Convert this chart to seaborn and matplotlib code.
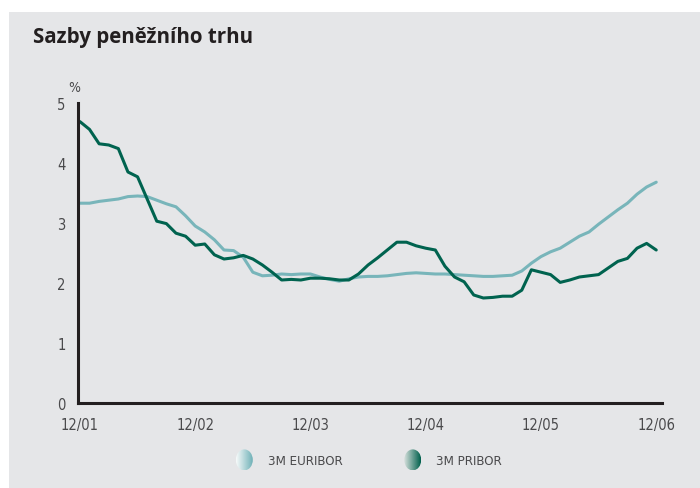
import numpy as np
import pandas as pd
import matplotlib
matplotlib.use("Agg")
from matplotlib import pyplot as plt
from matplotlib import font_manager
from matplotlib.patches import Rectangle, Ellipse
from matplotlib.lines import Line2D
from matplotlib.colors import LinearSegmentedColormap
import seaborn as sns

# monthly values, 12/2001 .. 12/2006
months = list(range(61))
euribor = [3.33, 3.33, 3.36, 3.38, 3.40, 3.44, 3.45, 3.44, 3.38, 3.32,
           3.27, 3.12, 2.95, 2.85, 2.72, 2.55, 2.54, 2.43, 2.18, 2.12,
           2.13, 2.15, 2.14, 2.15, 2.15, 2.10, 2.06, 2.03, 2.07, 2.10,
           2.11, 2.11, 2.12, 2.14, 2.16, 2.17, 2.16, 2.15, 2.15, 2.14,
           2.13, 2.12, 2.11, 2.11, 2.12, 2.13, 2.20, 2.33, 2.44, 2.52,
           2.58, 2.68, 2.78, 2.85, 2.98, 3.10, 3.22, 3.33, 3.48, 3.60,
           3.68]
pribor = [4.69, 4.56, 4.32, 4.30, 4.24, 3.85, 3.77, 3.40, 3.03, 2.99,
          2.83, 2.78, 2.63, 2.65, 2.47, 2.40, 2.42, 2.46, 2.40, 2.30,
          2.18, 2.05, 2.06, 2.05, 2.08, 2.08, 2.07, 2.05, 2.05, 2.15,
          2.30, 2.42, 2.55, 2.68, 2.68, 2.62, 2.58, 2.55, 2.28, 2.10,
          2.02, 1.80, 1.75, 1.76, 1.78, 1.78, 1.88, 2.22, 2.18, 2.14,
          2.01, 2.05, 2.10, 2.12, 2.14, 2.25, 2.36, 2.41, 2.58, 2.66,
          2.55]
tick_pos = [0, 12, 24, 36, 48, 60]
tick_labels = ["12/01", "12/02", "12/03", "12/04", "12/05", "12/06"]
series_names = ["3M EURIBOR", "3M PRIBOR"]

BG = "#e5e6e8"
EUR_COL = "#78b5ba"
PRI_COL = "#00634f"
AXIS_COL = "#231f20"
TEXT_COL = "#4a4a4c"
grad_ends = [("#f7fafa", "#6fb1b7"), ("#d8e1de", "#00604c")]

installed = {f.name for f in font_manager.fontManager.ttflist}
if "Liberation Sans Narrow" in installed:
    narrow = dict(family=["Liberation Sans Narrow", "DejaVu Sans"])
else:
    narrow = dict(family=["DejaVu Sans"], stretch="condensed")

df = pd.DataFrame({"month": months * 2,
                   "rate": euribor + pribor,
                   "series": [series_names[0]] * 61 + [series_names[1]] * 61})

sns.set_style("white")
plt.rcParams["font.family"] = ["Open Sans", "DejaVu Sans"]

fig = plt.figure(figsize=(7, 4.89), dpi=100, facecolor="white")
fig.patches.append(Rectangle((9 / 700, 0), 1, 1 - 13 / 489, transform=fig.transFigure,
                             facecolor=BG, edgecolor="none", zorder=-10))

ax = fig.add_axes([78 / 700, 1 - 404 / 489, 584 / 700, 300 / 489])
ax.set_facecolor("none")
sns.lineplot(data=df, x="month", y="rate", hue="series",
             palette=[EUR_COL, PRI_COL], linewidth=2.2, ax=ax, legend=False)
for ln in ax.lines:
    ln.set_solid_capstyle("round")
    ln.set_solid_joinstyle("round")

ax.set_xlim(-0.2, 60.6)
ax.set_ylim(0, 5)
ax.set_xticks(tick_pos)
ax.set_xticklabels(tick_labels)
ax.set_yticks([0, 1, 2, 3, 4, 5])
ax.set_xlabel("")
ax.set_ylabel("")
for s in ["top", "right"]:
    ax.spines[s].set_visible(False)
for s in ["left", "bottom"]:
    ax.spines[s].set_color(AXIS_COL)
    ax.spines[s].set_linewidth(2.2)
ax.tick_params(axis="y", length=5, width=2, color=AXIS_COL, direction="out",
               labelsize=10.5, labelcolor=TEXT_COL, pad=4)
ax.tick_params(axis="x", length=0, labelsize=10.5, labelcolor=TEXT_COL, pad=10)
for lab in ax.get_xticklabels() + ax.get_yticklabels():
    lab.set(**narrow)

fig.text(33 / 700, 1 - 37 / 489, "Sazby peněžního trhu", fontsize=14.8,
         fontweight="bold", color=AXIS_COL, va="center", ha="left")
fig.text(74 / 700, 1 - 88 / 489, "%", fontsize=10, color=TEXT_COL,
         va="center", ha="center", **narrow)

handles = [Line2D([], [], linestyle="none", marker="o", markersize=14,
                  markerfacecolor="none", markeredgecolor="none")
           for c in [EUR_COL, PRI_COL]]
leg = fig.legend(handles, series_names, loc="center", ncol=2,
                 bbox_to_anchor=(368 / 700, 1 - 462 / 489), frameon=False,
                 columnspacing=4.5, handletextpad=1.0, handlelength=1.6,
                 prop=dict(size=9.5, **narrow))
for t in leg.get_texts():
    t.set_color(TEXT_COL)

# gradient ellipses in place of the legend markers
fig.canvas.draw()
renderer = fig.canvas.get_renderer()
W, H = fig.bbox.width, fig.bbox.height
for h, (c0, c1) in zip(leg.legend_handles, grad_ends):
    bb = h.get_window_extent(renderer)
    cx, cy = (bb.x0 + bb.x1) / 2, (bb.y0 + bb.y1) / 2
    ew, eh = 17, 21
    iax = fig.add_axes([(cx - ew / 2) / W, (cy - eh / 2) / H, ew / W, eh / H])
    iax.set_axis_off()
    cmap = LinearSegmentedColormap.from_list("g", [c0, c1])
    grad = np.linspace(0, 1, 64)[None, :].repeat(8, axis=0)
    im = iax.imshow(grad, cmap=cmap, aspect="auto", extent=(0, 1, 0, 1))
    clip = Ellipse((0.5, 0.5), 1, 1, transform=iax.transAxes, facecolor="none",
                   edgecolor="none")
    iax.add_patch(clip)
    im.set_clip_path(clip)

fig.savefig("out.png", dpi=100, facecolor="white")
